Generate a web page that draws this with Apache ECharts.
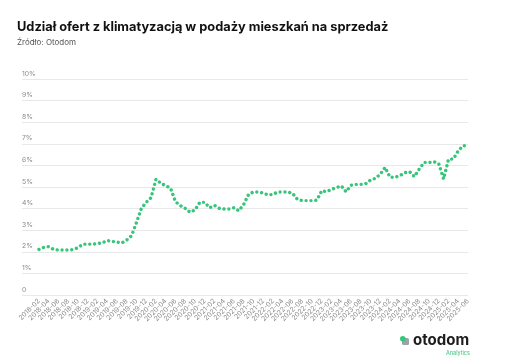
<!DOCTYPE html>
<html>
<head>
<meta charset="utf-8">
<script src="https://cdn.jsdelivr.net/npm/echarts@6/dist/echarts.min.js"></script>
<style>
html,body{margin:0;padding:0;background:#fff;}
#chart{width:515px;height:364px;}
</style>
</head>
<body>
<div id="chart"></div>
<script>
const titleText = 'Udział ofert z klimatyzacją w podaży mieszkań na sprzedaż';
const subtitleText = 'Źródło: Otodom';

const months = [
 '2018-02','2018-03','2018-04','2018-05','2018-06','2018-07','2018-08','2018-09','2018-10','2018-11','2018-12',
 '2019-01','2019-02','2019-03','2019-04','2019-05','2019-06','2019-07','2019-08','2019-09','2019-10','2019-11','2019-12',
 '2020-01','2020-02','2020-03','2020-04','2020-05','2020-06','2020-07','2020-08','2020-09','2020-10','2020-11','2020-12',
 '2021-01','2021-02','2021-03','2021-04','2021-05','2021-06','2021-07','2021-08','2021-09','2021-10','2021-11','2021-12',
 '2022-01','2022-02','2022-03','2022-04','2022-05','2022-06','2022-07','2022-08','2022-09','2022-10','2022-11','2022-12',
 '2023-01','2023-02','2023-03','2023-04','2023-05','2023-06','2023-07','2023-08','2023-09','2023-10','2023-11','2023-12',
 '2024-01','2024-02','2024-03','2024-04','2024-05','2024-06','2024-07','2024-08','2024-09','2024-10','2024-11','2024-12',
 '2025-01','2025-02','2025-03','2025-04','2025-05','2025-06'
];

const shareAC = [
 2.11, 2.21, 2.24, 2.11, 2.08, 2.08, 2.08, 2.10, 2.19, 2.35,
 2.36, 2.35, 2.38, 2.42, 2.52, 2.48, 2.45, 2.41, 2.55, 2.75,
 3.36, 4.01, 4.29, 4.51, 5.36, 5.17, 5.06, 4.94, 4.32, 4.14,
 4.01, 3.83, 3.94, 4.29, 4.29, 4.04, 4.15, 4.01, 3.98, 3.98,
 4.04, 3.90, 4.20, 4.66, 4.77, 4.77, 4.72, 4.63, 4.66, 4.77,
 4.77, 4.77, 4.71, 4.43, 4.37, 4.37, 4.37, 4.39, 4.83, 4.78,
 4.89, 4.97, 5.05, 4.78, 5.08, 5.12, 5.12, 5.15, 5.32, 5.40,
 5.59, 5.91, 5.45, 5.45, 5.52, 5.66, 5.71, 5.48, 5.83, 6.14,
 6.13, 6.17, 6.08, 5.37, 6.28, 6.30, 6.68, 6.91, 6.91
];

const yMin = 0, yMax = 10, yStep = 1;

const chart = echarts.init(document.getElementById('chart'), null, {renderer:'canvas'});
const FONT = 'Inter, Lato, "Noto Sans", sans-serif';
const GREEN = '#36c57a';

chart.setOption({
  backgroundColor:'#ffffff',
  animation:false,
  title:[
    {text:titleText, left:17, top:21, padding:0, textStyle:{fontFamily:FONT, fontSize:12.8, fontWeight:700, color:'#111'}},
    {text:subtitleText, left:17, top:39, padding:0, textStyle:{fontFamily:FONT, fontSize:8, fontWeight:400, color:'#555'}}
  ],
  grid:[
    {left:22, right:47, top:79, bottom:69},
    {left:39, right:47, top:79, bottom:69}
  ],
  xAxis:[
    {gridIndex:0, type:'category', data:months, show:false},
    {gridIndex:1, type:'category', data:months, boundaryGap:false,
     axisLine:{show:false}, axisTick:{show:false}, splitLine:{show:false},
     axisLabel:{interval:1, rotate:45, fontSize:6.8, color:'#8a8a8a', fontFamily:FONT, margin:5}}
  ],
  yAxis:[
    {gridIndex:0, type:'value', min:yMin, max:yMax, interval:yStep,
     axisLine:{show:false}, axisTick:{show:false},
     splitLine:{lineStyle:{color:'#e8e8e8', width:1}},
     axisLabel:{inside:true, verticalAlign:'bottom', align:'left', margin:0, padding:[0,0,2,0],
       fontSize:6.8, color:'#8a8a8a', fontFamily:FONT,
       formatter:function(v){return v===0 ? '0' : v+'%';}}},
    {gridIndex:1, type:'value', min:yMin, max:yMax, interval:yStep, show:false, splitLine:{show:false}}
  ],
  series:[{
    type:'line', xAxisIndex:1, yAxisIndex:1, data:shareAC,
    symbol:'none', smooth:false,
    lineStyle:{color:GREEN, width:3.4, type:[0.01,4.86], cap:'round', join:'round'}
  }],
  graphic:[
    {type:'rect', left:402, top:338, shape:{width:7, height:7, r:1.5}, style:{fill:'#9aa3a8'}},
    {type:'circle', left:400, top:336, shape:{r:2.8}, style:{fill:GREEN}},
    {type:'text', left:413, top:333, style:{text:'otodom', font:'700 15px '+FONT, fill:'#1c1c1c'}},
    {type:'text', left:446, top:350, style:{text:'Analytics', font:'400 5.5px '+FONT, fill:GREEN}}
  ]
});
</script>
</body>
</html>
